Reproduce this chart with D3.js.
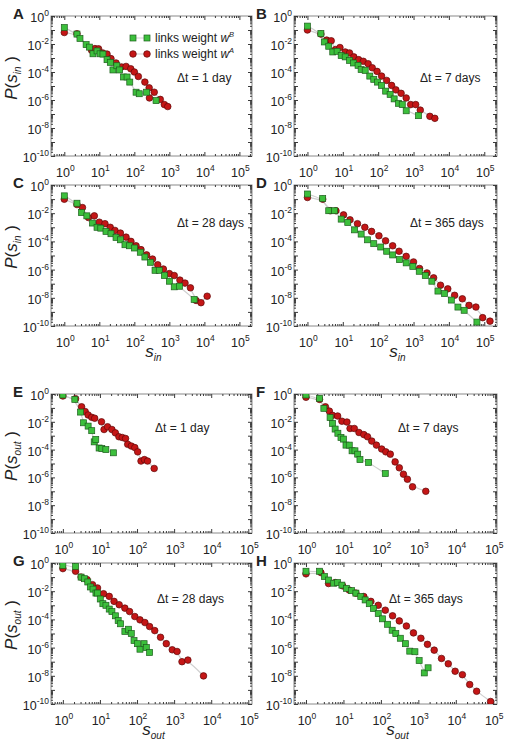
<!DOCTYPE html>
<html>
<head>
<meta charset="utf-8">
<script src="https://cdn.jsdelivr.net/npm/d3@7"></script>
<style>
  body { margin: 0; background: #fff; }
  text { font-family: "Liberation Sans", Arial, sans-serif; fill: #222; }
</style>
</head>
<body>
<div id="chart"></div>
<script>
// ---- data: [s, P(s)] ----
// in-strength, links weight w^B (green) and w^A (red)
const inB1 = [[1,0.15],[2.3,0.051],[2.8,0.025],[4.2,9e-3],[5.2,6e-3],[6.6,2e-3],[8.6,3.2e-3],[10.5,2e-3],[12.7,1.9e-3],[16.6,7.6e-4],[20.6,4.9e-4],[24.5,1.4e-4],[31.6,2.8e-4],[38,1.4e-4],[49,4.4e-5],[62,4.4e-5],[74,1.9e-5],[112,3.6e-6],[138,2.8e-6],[224,3.6e-6],[417,9e-7]];
const inA1 = [[1,0.066],[2.3,0.054],[6.0,3.6e-3],[7.5,4.7e-3],[9.5,4.5e-3],[12.5,2.3e-3],[16.6,1.9e-3],[21.5,9e-4],[30,4.4e-4],[43,2.3e-4],[58,2.5e-4],[79,1.7e-4],[100,1e-4],[130,4.8e-5],[200,1.9e-5],[265,7.4e-6],[270,1.4e-6],[370,3.6e-6],[550,1.1e-6],[720,4.7e-7],[900,3.4e-7]];

const inB7 = [[1,0.19],[2.4,0.056],[3.0,0.014],[4.0,6.9e-3],[5.2,2.7e-3],[6.9,3e-3],[9,1.5e-3],[11.7,1.2e-3],[15.5,6.8e-4],[20,4.4e-4],[27,3e-4],[33,1.5e-4],[43,1.3e-4],[58,5.1e-5],[75,3e-5],[96,1.9e-5],[125,1.1e-5],[163,4.3e-6],[218,2.5e-6],[283,1.2e-6],[375,5.8e-7],[480,4.7e-7],[620,1.7e-7],[1380,7.6e-8]];
const inA7 = [[1,0.1],[2.4,0.051],[3.5,0.019],[4.7,0.017],[6.2,4e-3],[8.3,5.6e-3],[11.7,2.7e-3],[15.5,2.3e-3],[20.5,1.2e-3],[28,7.6e-4],[38,5.8e-4],[52,3.9e-4],[68,2e-4],[93,1.1e-4],[125,5.1e-5],[174,2.5e-5],[240,1.1e-5],[316,5.3e-6],[445,3e-6],[620,1.4e-6],[830,4.7e-7],[1150,4.7e-7],[1550,1.9e-7],[2900,6.8e-8],[4000,4.9e-8]];

const inB28 = [[1,0.17],[2.3,0.051],[3.1,0.011],[4.4,6.5e-3],[6.4,2e-3],[8.6,1e-3],[11,8.7e-4],[15.5,5.1e-4],[21.5,3.5e-4],[30,1.9e-4],[40,1.3e-4],[54,5.8e-5],[72,4.9e-5],[100,3.4e-5],[148,1.7e-5],[200,7.8e-6],[288,3.3e-6],[390,8.9e-7],[515,8.9e-7],[720,3.8e-7],[1000,1.5e-7],[1380,6e-8],[1950,6.6e-8],[5100,7.6e-9]];
const inA28 = [[1,0.098],[2.3,0.041],[3.3,0.025],[4.9,4.9e-3],[7.2,6.5e-3],[10,2.3e-3],[14.5,1.8e-3],[20.5,1e-3],[28,6e-4],[40,3.9e-4],[58,2e-4],[80,1e-4],[112,4.9e-5],[155,2.6e-5],[224,1.1e-5],[330,5.6e-6],[465,2.2e-6],[675,1.1e-6],[1000,5.2e-7],[1380,3.8e-7],[2000,1.8e-7],[2800,1.1e-7],[4000,5.1e-8],[5800,6.5e-9],[8000,4.5e-9],[12000,1.3e-8]];

const inB365 = [[1,0.23],[2.7,0.11],[4,0.015],[5.8,0.015],[9,3.8e-3],[13.8,2.2e-3],[21.5,6.6e-4],[33,3.3e-4],[50,1.3e-4],[75,6.9e-5],[118,4e-5],[174,2e-5],[257,1.1e-5],[400,5.1e-6],[620,3e-6],[955,1.7e-6],[1450,7.6e-7],[2150,3.8e-7],[3300,1.5e-7],[4900,3e-8],[7500,2e-8],[11700,6.9e-9],[18000,2.2e-9],[27000,1.3e-9],[62000,1.9e-10]];
const inA365 = [[1,0.13],[2.7,0.098],[4.4,0.015],[6.4,0.015],[10.5,7.6e-3],[16,3.4e-3],[26,1.8e-3],[42,1e-3],[65,5.1e-4],[105,2.5e-4],[162,1.1e-4],[257,4.9e-5],[390,2e-5],[620,8.7e-6],[1000,3.5e-6],[1480,1.2e-6],[2400,5.8e-7],[3700,2.6e-7],[5800,7.8e-8],[9300,4.3e-8],[14500,1.5e-8],[24000,8.5e-9],[37000,2.9e-9],[58000,2.2e-9],[90000,3.9e-10],[145000,2.2e-10]];

// out-strength
const outB1 = [[1,0.85],[2.1,0.41],[3.0,0.05],[3.6,8.5e-3],[4.8,4.9e-3],[6.0,2.3e-3],[7.0,3.6e-4],[7.7,5.4e-4],[9.5,1.3e-4],[11.2,1.2e-4],[14.4,1e-4],[23,5.9e-5]];
const outA1 = [[1,0.72],[2.2,0.46],[3.2,0.12],[4,0.054],[4.8,0.031],[6,0.021],[7.2,0.018],[11,0.01],[12.9,2.8e-3],[16,4.4e-3],[21,2.8e-3],[26,1.6e-3],[32.5,8.4e-4],[40,7.4e-4],[49,6.3e-4],[56,2.4e-4],[70,1.8e-4],[87,1.4e-4],[104,6.9e-5],[128,1.5e-5],[158,1.9e-5],[192,1.5e-5],[290,4.4e-6]];

const outB7 = [[1,0.85],[2.3,0.49],[3.0,0.093],[4.4,0.02],[5.1,7.7e-3],[6.0,3e-3],[7.1,1.5e-3],[8.6,7.5e-4],[10,5.7e-4],[11.7,2.1e-4],[14.3,2.1e-4],[17,8.2e-5],[20.3,8.2e-5],[24,4.7e-5],[27.6,1.9e-5],[47,1.2e-5],[131,1.9e-6]];
const outA7 = [[1,0.58],[2.3,0.41],[3.3,0.12],[4.2,0.059],[5.1,0.029],[7,0.026],[9.1,0.011],[12.4,9.6e-3],[15,3.3e-3],[19.5,3.3e-3],[26,1.7e-3],[35,1.2e-3],[44,8.4e-4],[57,4.1e-4],[76,2.1e-4],[105,1.1e-4],[135,6.9e-5],[178,4.7e-5],[240,1.3e-5],[310,4.9e-6],[400,1.7e-6],[510,7.4e-7],[700,2.1e-7],[1580,1e-7]];

const outB28 = [[1,0.68],[2.2,0.58],[3.1,0.1],[3.8,0.077],[4.7,0.045],[5.5,0.02],[6.5,0.014],[7.8,7.4e-3],[8.6,7.4e-3],[10.2,2.8e-3],[12,1.3e-3],[14.5,1e-3],[17.8,5.4e-4],[21,3.6e-4],[26,1.8e-4],[31,8.3e-5],[36,4.9e-5],[47,1.4e-5],[59,2e-5],[70,1e-5],[83,3.2e-6],[102,1.9e-6],[120,7.7e-7],[155,1.9e-6],[178,1e-6],[218,4.5e-7]];
const outA28 = [[1,0.4],[2.2,0.26],[3.1,0.1],[4.5,0.066],[6.3,0.029],[8.6,0.017],[12.5,6.6e-3],[17.8,4.3e-3],[24,1.9e-3],[33,1.1e-3],[47,6.3e-4],[63,3.6e-4],[87,1.6e-4],[120,9.3e-5],[163,6e-5],[218,3.1e-5],[300,1.6e-5],[430,5.4e-6],[615,1.9e-6],[890,7e-7],[1200,5.3e-7],[1630,1e-7],[2350,1.3e-7],[6200,9.8e-9]];

const outB365 = [[1,0.26],[2.3,0.26],[3.1,0.11],[4,0.062],[5.5,0.037],[7,0.041],[9.1,0.027],[12,0.016],[16.5,0.011],[21.5,7.3e-3],[29,4.2e-3],[38,2.4e-3],[49,1.3e-3],[63,5.9e-4],[85,2.6e-4],[110,1.1e-4],[151,4.5e-5],[200,1.7e-5],[250,9.8e-6],[330,4.6e-6],[450,1.9e-6],[590,5.6e-7],[810,5.1e-7],[1050,1.2e-7],[1440,1.6e-8],[1820,3.7e-8]];
const outA365 = [[1,0.17],[2.5,0.21],[4,0.035],[6,0.041],[9.5,0.024],[14.3,0.012],[21.5,7.3e-3],[35,4.2e-3],[54,1.9e-3],[85,1e-3],[131,4.5e-4],[205,1.8e-4],[310,7.8e-5],[480,3.4e-5],[740,1.1e-5],[1170,4.6e-6],[1750,1.7e-6],[2650,6.6e-7],[4150,1.7e-7],[6300,7.1e-8],[9600,2.1e-8],[15000,1.2e-8],[23500,2.4e-9],[36000,8e-10],[85000,1.5e-10]];

const xTickExp = [0, 1, 2, 3, 4, 5];
const yTickExp = [0, -2, -4, -6, -8, -10];
const legendLabels = [["links weight ", "w", "B"], ["links weight ", "w", "A"]];

// ---- layout ----
const W = 509, H = 746;
const cols = [[51, 252], [294, 497]];
const rows = [[16, 156], [185, 326], [394, 533], [563, 704]];
const xDomTop = [Math.pow(10, -0.38), Math.pow(10, 5.36)];
const xDomBot = [Math.pow(10, -0.32), Math.pow(10, 5.1)];

const panels = [
  {id: "A", r: 0, c: 0, dir: "in",  g: inB1,   rd: inA1,   dt: "\u0394t = 1 day",    dx: 126, dy: 66, legend: true},
  {id: "B", r: 0, c: 1, dir: "in",  g: inB7,   rd: inA7,   dt: "\u0394t = 7 days",   dx: 126, dy: 66},
  {id: "C", r: 1, c: 0, dir: "in",  g: inB28,  rd: inA28,  dt: "\u0394t = 28 days",  dx: 126, dy: 42, xlab: true},
  {id: "D", r: 1, c: 1, dir: "in",  g: inB365, rd: inA365, dt: "\u0394t = 365 days", dx: 116, dy: 42, xlab: true},
  {id: "E", r: 2, c: 0, dir: "out", g: outB1,  rd: outA1,  dt: "\u0394t = 1 day",    dx: 104, dy: 38},
  {id: "F", r: 2, c: 1, dir: "out", g: outB7,  rd: outA7,  dt: "\u0394t = 7 days",   dx: 104, dy: 38},
  {id: "G", r: 3, c: 0, dir: "out", g: outB28, rd: outA28, dt: "\u0394t = 28 days",  dx: 106, dy: 40, xlab: true},
  {id: "H", r: 3, c: 1, dir: "out", g: outB365,rd: outA365,dt: "\u0394t = 365 days", dx: 95,  dy: 40, xlab: true}
];

const GREEN = "#3cbf3c", GREEN_S = "#1d5e1d";
const RED = "#c41616", RED_S = "#5e0808";
const TICK = "#3a3a3a", FRAME = "#8a8a8a";

const svg = d3.select("#chart").append("svg")
  .attr("width", W).attr("height", H);

function minorTicks(dom) {
  const out = [];
  const lo = Math.floor(Math.log10(dom[0])), hi = Math.ceil(Math.log10(dom[1]));
  for (let e = lo; e <= hi; e++) {
    for (let m = 2; m <= 9; m++) {
      const v = m * Math.pow(10, e);
      if (v > dom[0] && v < dom[1]) out.push(v);
    }
  }
  return out;
}
function majorTicks(dom) {
  const out = [];
  const lo = Math.ceil(Math.log10(dom[0]) - 1e-9), hi = Math.floor(Math.log10(dom[1]) + 1e-9);
  for (let e = lo; e <= hi; e++) out.push(Math.pow(10, e));
  return out;
}

function powLabel(sel, exp, size, supSize) {
  sel.append("tspan").attr("font-size", size).text("10");
  sel.append("tspan").attr("font-size", supSize).attr("dy", -6).text(exp);
}

panels.forEach(p => {
  const [x0, x1] = cols[p.c], [y0, y1] = rows[p.r];
  const xDom = p.r < 2 ? xDomTop : xDomBot;
  const x = d3.scaleLog().domain(xDom).range([x0, x1]);
  const y = d3.scaleLog().domain([1e-10, 1]).range([y1, y0]);
  const yDom = y.domain();

  const g = svg.append("g");

  // frame
  g.append("rect")
    .attr("x", x0).attr("y", y0).attr("width", x1 - x0).attr("height", y1 - y0)
    .attr("fill", "none").attr("stroke", FRAME).attr("stroke-width", 1);

  // ticks on all four sides, pointing inward
  const axes = [
    [d3.axisBottom(x), `translate(0,${y1})`, xDom],
    [d3.axisTop(x), `translate(0,${y0})`, xDom],
    [d3.axisLeft(y), `translate(${x0},0)`, yDom],
    [d3.axisRight(y), `translate(${x1},0)`, yDom]
  ];
  axes.forEach(([ax, tr, dom]) => {
    [[majorTicks(dom), -4], [minorTicks(dom), -2]].forEach(([vals, len]) => {
      const a = g.append("g").attr("transform", tr)
        .call(ax.tickValues(vals).tickSize(len).tickFormat(""));
      a.select(".domain").remove();
      a.selectAll("line").attr("stroke", TICK).attr("stroke-width", 1);
    });
  });

  // tick labels
  xTickExp.forEach(e => {
    const t = g.append("text").attr("x", x(Math.pow(10, e)) + 1).attr("y", y1 + 21)
      .attr("text-anchor", "middle");
    powLabel(t, e, 12.5, 8.5);
  });
  yTickExp.forEach(e => {
    const t = g.append("text").attr("x", x0 - 2).attr("y", y(Math.pow(10, e)) + 6)
      .attr("text-anchor", "end");
    powLabel(t, e, 12.5, 8.5);
  });

  // panel letter
  g.append("text").attr("x", x0 - 38).attr("y", y0 + 3)
    .attr("font-weight", "bold").attr("font-size", 15).text(p.id);

  // y label (left column only)
  if (p.c === 0) {
    const t = g.append("text")
      .attr("transform", `translate(17,${y0 + 62}) rotate(-90)`)
      .attr("text-anchor", "middle").attr("font-size", 17);
    t.append("tspan").attr("font-style", "italic").text("P");
    t.append("tspan").text("(");
    t.append("tspan").attr("font-style", "italic").text("s");
    t.append("tspan").attr("font-style", "italic").attr("font-size", 10).attr("dy", 4).text(p.dir);
    t.append("tspan").attr("dy", -4).text(" )");
  }

  // x label
  if (p.xlab) {
    const t = g.append("text").attr("x", (x0 + x1) / 2 + 2).attr("y", y1 + 31)
      .attr("text-anchor", "middle").attr("font-size", 17);
    t.append("tspan").attr("font-style", "italic").text("s");
    t.append("tspan").attr("font-style", "italic").attr("font-size", 10).attr("dy", 4).text(p.dir);
  }

  // delta t label
  g.append("text").attr("x", x0 + p.dx).attr("y", y0 + p.dy)
    .attr("font-size", 12).text(p.dt);

  // data
  const clipId = "clip" + p.id;
  svg.append("clipPath").attr("id", clipId).append("rect")
    .attr("x", x0).attr("y", y0).attr("width", x1 - x0).attr("height", y1 - y0);
  const plot = g.append("g").attr("clip-path", `url(#${clipId})`);

  const line = d3.line().x(d => x(d[0])).y(d => y(d[1])).curve(d3.curveBasis);
  [p.g, p.rd].forEach(s => {
    plot.append("path").datum(s).attr("d", line)
      .attr("fill", "none").attr("stroke", "#cfcfcf").attr("stroke-width", 1.2);
  });

  plot.selectAll("circle.red").data(p.rd).join("circle")
    .attr("class", "red")
    .attr("cx", d => x(d[0])).attr("cy", d => y(d[1])).attr("r", 3.3)
    .attr("fill", RED).attr("stroke", RED_S).attr("stroke-width", 0.7);

  plot.selectAll("rect.green").data(p.g).join("rect")
    .attr("class", "green")
    .attr("x", d => x(d[0]) - 3).attr("y", d => y(d[1]) - 3)
    .attr("width", 6).attr("height", 6)
    .attr("fill", GREEN).attr("stroke", GREEN_S).attr("stroke-width", 0.7);

  // legend
  if (p.legend) {
    const lx = x0 + 82, ly = y0 + 22;
    legendLabels.forEach((lab, i) => {
      const yy = ly + i * 16;
      g.append("line").attr("x1", lx).attr("x2", lx + 14).attr("y1", yy).attr("y2", yy)
        .attr("stroke", "#cfcfcf").attr("stroke-width", 1);
      [lx, lx + 14].forEach(cx => {
        if (i === 0) {
          g.append("rect").attr("x", cx - 3).attr("y", yy - 3).attr("width", 6).attr("height", 6)
            .attr("fill", GREEN).attr("stroke", GREEN_S).attr("stroke-width", 0.7);
        } else {
          g.append("circle").attr("cx", cx).attr("cy", yy).attr("r", 3.3)
            .attr("fill", RED).attr("stroke", RED_S).attr("stroke-width", 0.7);
        }
      });
      const t = g.append("text").attr("x", lx + 22).attr("y", yy + 4).attr("font-size", 12);
      t.append("tspan").text(lab[0]);
      t.append("tspan").attr("font-style", "italic").text(lab[1]);
      t.append("tspan").attr("font-style", "italic").attr("font-size", 7.5).attr("dy", -5).text(lab[2]);
    });
  }
});
</script>
</body>
</html>
